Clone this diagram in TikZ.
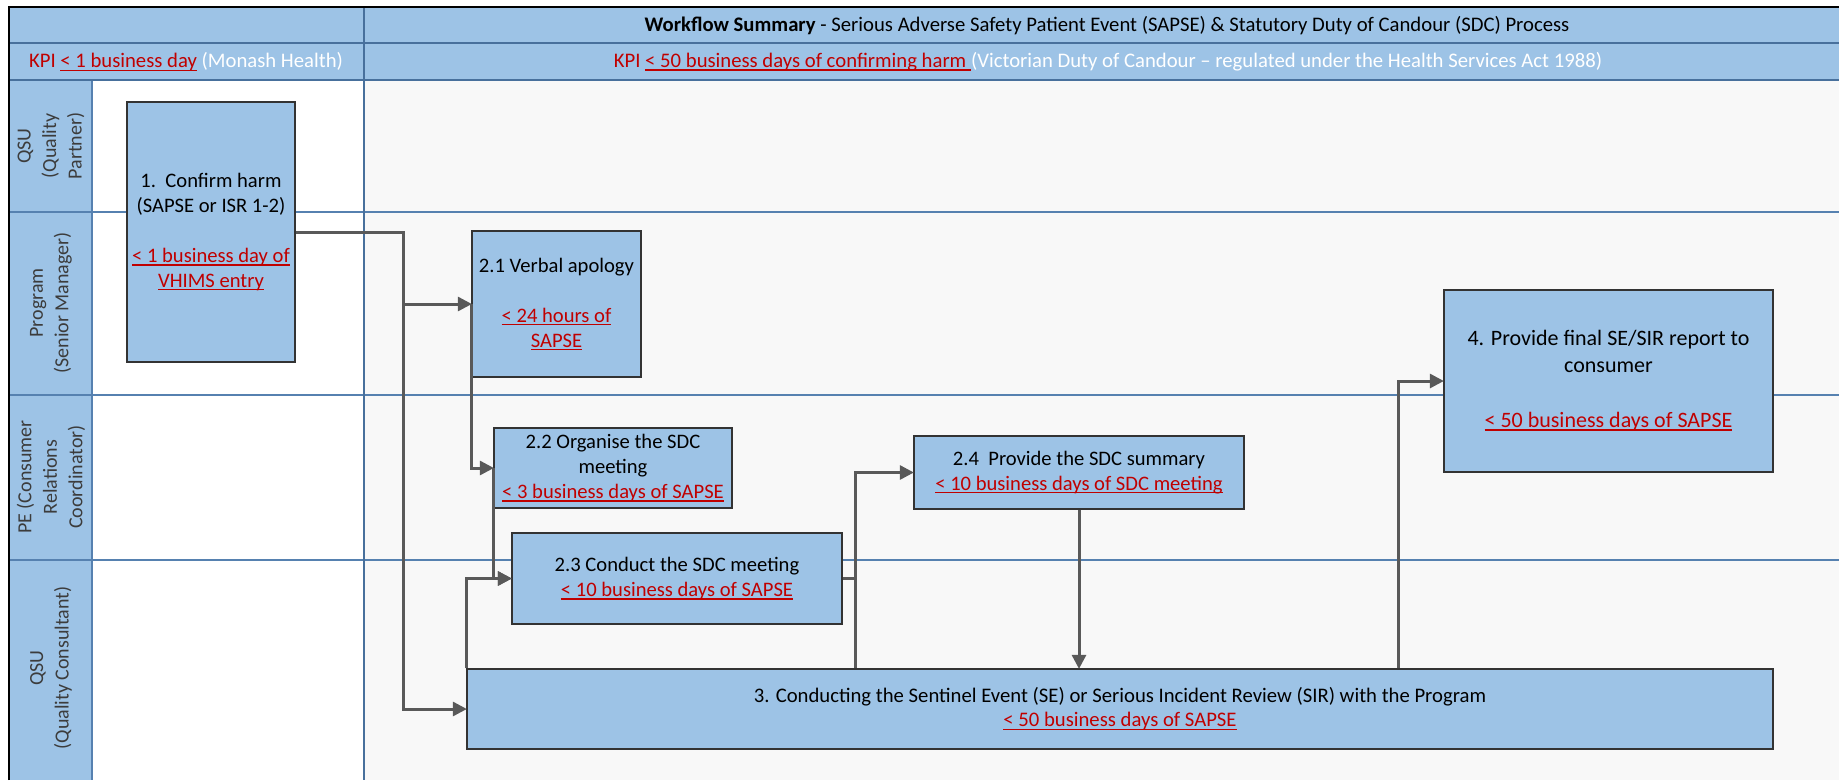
\documentclass[tikz,border=0pt]{standalone}
\usepackage{fontspec}
\setmainfont{Carlito}
\usetikzlibrary{arrows.meta}
\definecolor{hdrblue}{RGB}{157,195,230}
\definecolor{boxblue}{RGB}{157,195,230}
\definecolor{laneline}{RGB}{86,129,176}
\definecolor{hdrline}{RGB}{72,112,156}
\definecolor{conncol}{RGB}{89,89,89}
\definecolor{kpired}{RGB}{192,0,0}
\definecolor{bodybg}{RGB}{248,248,248}
\definecolor{labtxt}{RGB}{60,60,60}
\newcommand\ulx[1]{\setbox0\hbox{#1}\rlap{\rule[-3pt]{\wd0}{1.4pt}}\box0}
\tikzset{
  procbox/.style={draw=black!80, line width=1.3pt, fill=boxblue, align=center, inner sep=0pt,
    font=\fontsize{20.6}{25}\selectfont, text=black},
  lanelab/.style={rotate=90, align=center, font=\fontsize{20}{25.5}\selectfont, text=labtxt},
  hdrtxt/.style={font=\fontsize{20.7}{24}\selectfont},
  lline/.style={draw=laneline, line width=1.8pt},
  hline/.style={draw=hdrline, line width=1.8pt},
  conn/.style={draw=conncol, line width=3pt},
  arrowconn/.style={conn, -{Triangle[length=14pt,width=14pt]}, shorten >=-0.5pt},
}
\begin{document}
\begin{tikzpicture}[x=1pt,y=-1pt]
\useasboundingbox (0,0) rectangle (1839,780);
% page background
\fill[white] (0,0) rectangle (1839,780);
% body background
\fill[bodybg] (92,80) rectangle (1839,780);
\fill[white] (92,80) rectangle (364,780);
% header bands
\fill[hdrblue] (9,7) rectangle (1839,80);
% lane label column
\fill[hdrblue] (9,80) rectangle (92,780);
% lane separators
\draw[lline] (9,212) -- (1839,212);
\draw[lline] (9,395) -- (1839,395);
\draw[lline] (9,560) -- (1839,560);
% column separators
\draw[lline] (92,80) -- (92,780);
\draw[hline] (364,7) -- (364,780);
% header separators
\draw[hline] (9,43) -- (1839,43);
\draw[hline] (9,80) -- (1839,80);
% outer frame
\draw[black, line width=2.5pt] (9,780) -- (9,7) -- (1839,7);

% header texts
\node[hdrtxt] (title) at (1107,26) {\textbf{Workflow Summary} - Serious Adverse Safety Patient Event (SAPSE) \& Statutory Duty of Candour (SDC) Process};
\node[hdrtxt] (kpil) at (186,62) {\color{kpired}KPI \ulx{< 1 business day}\color{white}\ (Monash Health)};
\node[hdrtxt] (kpir) at (1108,62) {\color{kpired}KPI \ulx{< 50 business days of confirming harm\ }\color{white}(Victorian Duty of Candour – regulated under the Health Services Act 1988)};

% lane labels
\node[lanelab] (lane1) at (51,146) {QSU\\(Quality\\Partner)};
\node[lanelab] (lane2) at (51,303) {Program\\(Senior Manager)};
\node[lanelab] (lane3) at (51,477) {PE (Consumer\\Relations\\Coordinator)};
\node[lanelab] (lane4) at (51,668) {QSU\\(Quality Consultant)};

% process boxes
\node[procbox, minimum width=168pt, minimum height=260pt] (b1) at (211,232)
  {1.~~Confirm harm\\(SAPSE or ISR 1-2)\\[25pt]\color{kpired}\ulx{< 1 business day of}\\\color{kpired}\ulx{VHIMS entry}};
\node[procbox, minimum width=169pt, minimum height=146pt] (b21) at (556.5,304)
  {2.1 Verbal apology\\[25pt]\color{kpired}\ulx{< 24 hours of}\\\color{kpired}\ulx{SAPSE}};
\node[procbox, minimum width=238pt, minimum height=80pt] (b22) at (613,468)
  {2.2 Organise the SDC\\meeting\\\color{kpired}\ulx{< 3 business days of SAPSE}};
\node[procbox, minimum width=330pt, minimum height=91pt] (b23) at (677,578.5)
  {2.3 Conduct the SDC meeting\\\color{kpired}\ulx{< 10 business days of SAPSE}};
\node[procbox, minimum width=330pt, minimum height=73pt] (b24) at (1079,472.5)
  {2.4~ Provide the SDC summary\\\color{kpired}\ulx{< 10 business days of SDC meeting}};
\node[procbox, minimum width=329pt, minimum height=182pt, font=\fontsize{22}{27}\selectfont] (b4) at (1608.5,381)
  {4. Provide final SE/SIR report to\\consumer\\[28pt]\color{kpired}\ulx{< 50 business days of SAPSE}};
\node[procbox, minimum width=1306pt, minimum height=80pt, font=\fontsize{20.7}{24}\selectfont] (b3) at (1120,709)
  {3. Conducting the Sentinel Event (SE) or Serious Incident Review (SIR) with the Program\\\color{kpired}\ulx{< 50 business days of SAPSE}};

% junction coordinates
\coordinate (c1) at (403,232);
\coordinate (c2) at (855,472.5);
\coordinate (c3) at (1398,381);

% connectors
\draw[arrowconn] (b1.east) -- (c1) |- (b3.west);
\draw[arrowconn] (c1 |- b21.west) -- (b21.west);
\draw[arrowconn] (b21.west) |- (b22.west);
\draw[arrowconn] (b22.west) |- (b23.west);
\draw[arrowconn] (b3.north west) |- (b23.west);
\draw[conn] (b23.east) -- (c2 |- b23.east);
\draw[arrowconn] (b3.north -| c2) |- (b24.west);
\draw[arrowconn] (b24.south) -- (b3.north -| b24.south);
\draw[arrowconn] (b3.north -| c3) |- (b4.west);
\end{tikzpicture}
\end{document}
